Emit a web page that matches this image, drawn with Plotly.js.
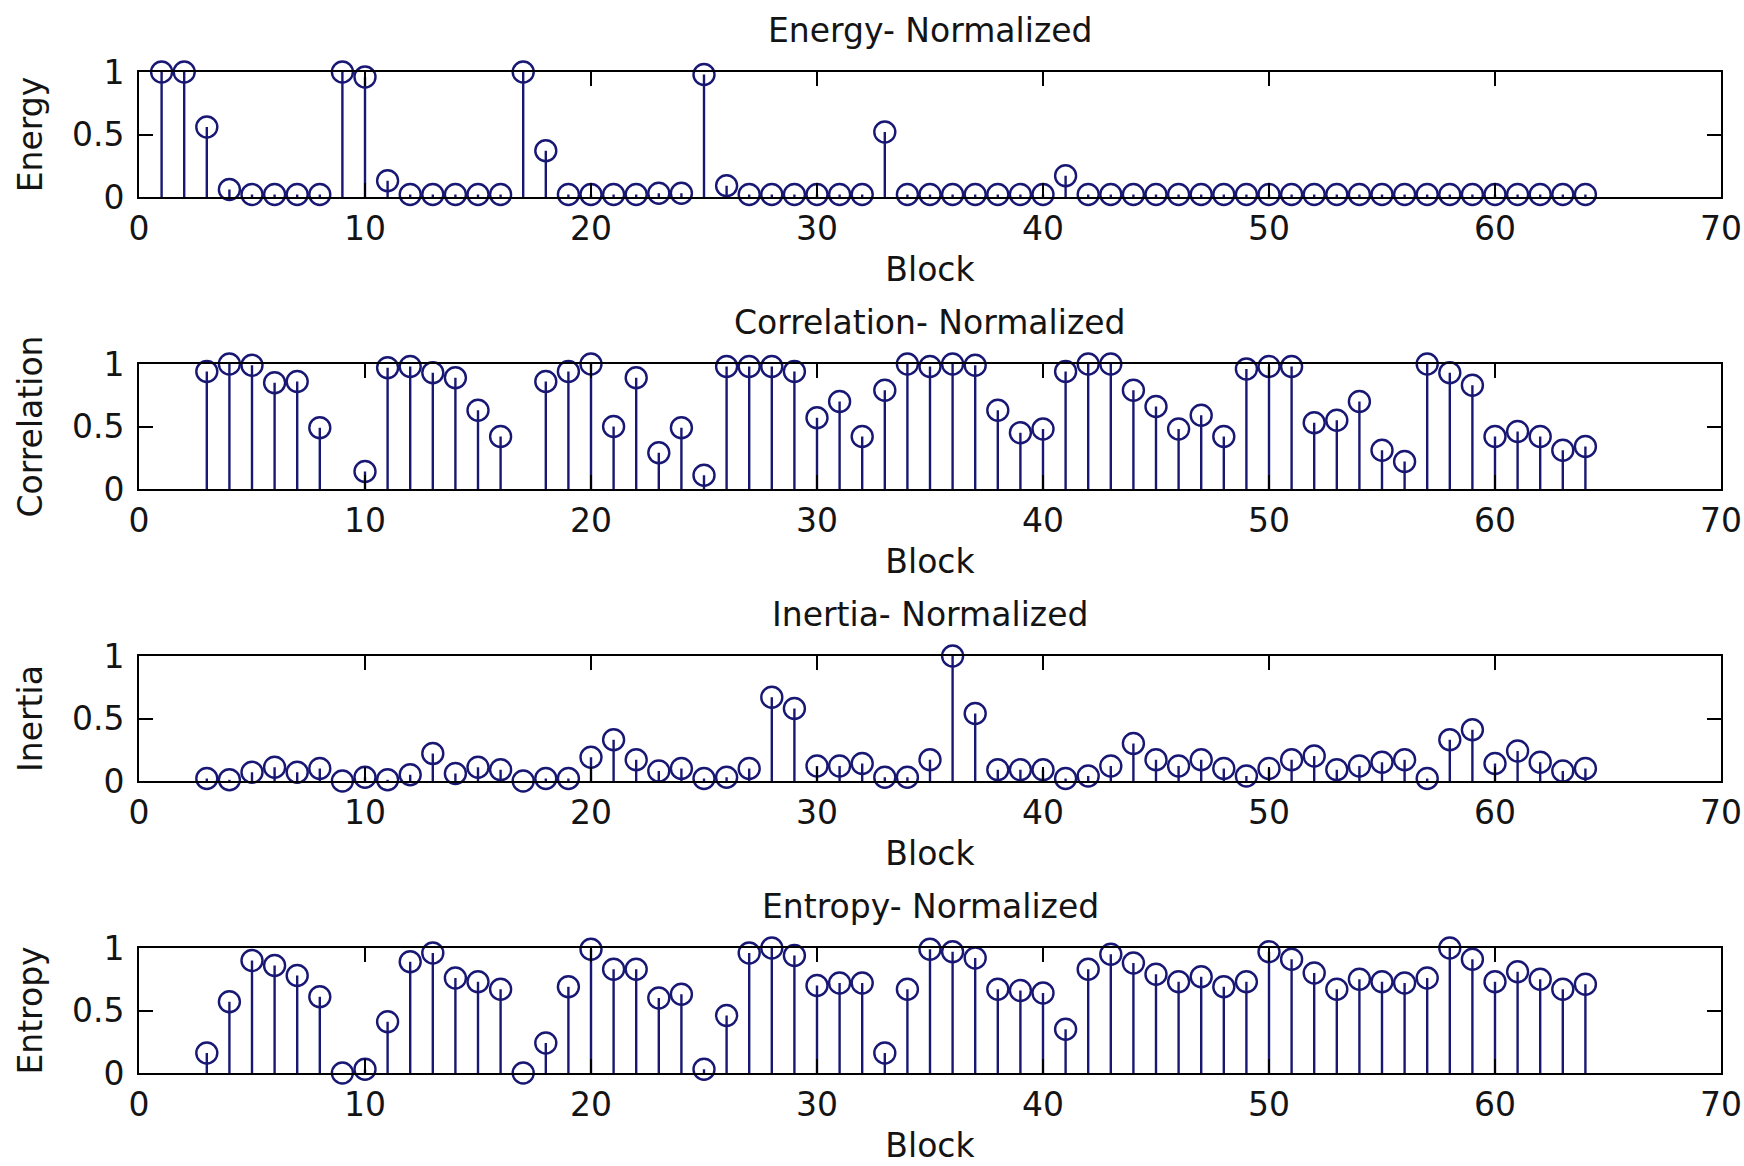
<!DOCTYPE html>
<html>
<head>
<meta charset="utf-8">
<script src="https://cdn.plot.ly/plotly-3.0.1.min.js"></script>
<style>html,body{margin:0;padding:0;background:#fff;}</style>
</head>
<body>
<div id="chart" style="width:1744px;height:1166px;"></div>
<script>
const blocks = [1,2,3,4,5,6,7,8,9,10,11,12,13,14,15,16,17,18,19,20,21,22,23,24,25,26,27,28,29,30,31,32,33,34,35,36,37,38,39,40,41,42,43,44,45,46,47,48,49,50,51,52,53,54,55,56,57,58,59,60,61,62,63,64];

const energy = [1.00,1.00,0.56,0.06,0.02,0.02,0.02,0.02,1.00,0.96,
  0.13,0.02,0.02,0.02,0.02,0.02,1.00,0.37,0.02,0.02,
  0.02,0.02,0.03,0.03,0.98,0.09,0.02,0.02,0.02,0.02,
  0.02,0.02,0.52,0.02,0.02,0.02,0.02,0.02,0.02,0.02,
  0.17,0.02,0.02,0.02,0.02,0.02,0.02,0.02,0.02,0.02,
  0.02,0.02,0.02,0.02,0.02,0.02,0.02,0.02,0.02,0.02,
  0.02,0.02,0.02,0.02];

const correlation = [null,null,0.94,1.00,0.99,0.85,0.86,0.49,null,0.14,
  0.97,0.98,0.93,0.89,0.63,0.42,null,0.86,0.94,1.00,
  0.50,0.89,0.29,0.49,0.11,0.98,0.98,0.98,0.94,0.57,
  0.70,0.42,0.79,1.00,0.98,1.00,0.99,0.63,0.45,0.48,
  0.94,1.00,1.00,0.79,0.66,0.48,0.59,0.42,0.96,0.98,
  0.98,0.53,0.55,0.70,0.31,0.22,1.00,0.93,0.83,0.42,
  0.46,0.42,0.31,0.34];

const inertia = [null,null,0.02,0.01,0.07,0.11,0.07,0.10,0.00,0.03,
  0.01,0.05,0.22,0.06,0.11,0.09,0.00,0.02,0.02,0.19,
  0.33,0.17,0.08,0.10,0.02,0.03,0.10,0.67,0.58,0.12,
  0.12,0.14,0.03,0.03,0.17,1.00,0.54,0.09,0.09,0.09,
  0.02,0.04,0.12,0.30,0.17,0.12,0.17,0.10,0.04,0.10,
  0.17,0.20,0.09,0.12,0.15,0.17,0.02,0.33,0.41,0.14,
  0.24,0.15,0.08,0.10];

const entropy = [null,null,0.16,0.57,0.90,0.86,0.78,0.61,0.00,0.03,
  0.41,0.89,0.96,0.76,0.73,0.67,0.00,0.24,0.69,0.99,
  0.83,0.83,0.60,0.63,0.03,0.46,0.96,1.00,0.94,0.70,
  0.72,0.72,0.16,0.67,0.99,0.97,0.92,0.67,0.66,0.64,
  0.35,0.83,0.95,0.88,0.79,0.73,0.77,0.69,0.73,0.97,
  0.91,0.80,0.67,0.75,0.73,0.72,0.76,1.00,0.91,0.73,
  0.81,0.75,0.67,0.71];

const panelTitles = ['Energy- Normalized','Correlation- Normalized','Inertia- Normalized','Entropy- Normalized'];
const yLabels = ['Energy','Correlation','Inertia','Entropy'];
const xLabel = 'Block';
const xTicks = [0,10,20,30,40,50,60,70];
const yTicks = [0,0.5,1];
const yTickText = ['0','0.5','1'];

const series = [energy, correlation, inertia, entropy];

const W = 1744, H = 1166;
const boxTop = [72, 364, 656, 948];
const boxH = 125;
const xDom = [139/W, 1721/W];
const stemColor = '#181874';
const FONT = 'DejaVu Sans, Liberation Sans, Arial, sans-serif';
const FS = 33;

const traces = [];
const layout = {
  width: W, height: H,
  margin: {l:0, r:0, t:0, b:0},
  paper_bgcolor: '#ffffff',
  plot_bgcolor: '#ffffff',
  showlegend: false,
  font: {family: FONT, size: FS, color: '#141414'},
  annotations: []
};

series.forEach((vals, i) => {
  const n = i + 1;
  const xa = 'x' + (n === 1 ? '' : n);
  const ya = 'y' + (n === 1 ? '' : n);
  traces.push({
    type: 'scatter',
    mode: 'markers',
    x: blocks,
    y: vals,
    xaxis: xa, yaxis: ya,
    cliponaxis: false,
    marker: {symbol: 'circle-open', size: 21, color: stemColor, line: {width: 2.4, color: stemColor}},
    error_y: {
      type: 'data', symmetric: false,
      array: vals.map(() => 0),
      arrayminus: vals,
      width: 0, thickness: 2.4, color: stemColor
    },
    hoverinfo: 'x+y'
  });
  const top = boxTop[i], bot = boxTop[i] + boxH;
  const yDom = [1 - bot / H, 1 - top / H];
  const axCommon = {
    showline: true, linewidth: 2, linecolor: '#000',
    mirror: 'ticks', ticks: 'inside', ticklen: 14, tickwidth: 2, tickcolor: '#000',
    showgrid: false, zeroline: false, fixedrange: true,
    tickfont: {family: FONT, size: FS, color: '#141414'}
  };
  layout['xaxis' + (n === 1 ? '' : n)] = Object.assign({}, axCommon, {
    domain: xDom, range: [0, 70], anchor: ya,
    tickmode: 'array', tickvals: xTicks, ticktext: xTicks.map(String),
    ticklabelstandoff: 1,
    title: {text: xLabel, font: {family: FONT, size: FS, color: '#141414'}, standoff: 11}
  });
  layout['yaxis' + (n === 1 ? '' : n)] = Object.assign({}, axCommon, {
    domain: yDom, range: [0, 1], anchor: xa,
    tickmode: 'array', tickvals: yTicks, ticktext: yTickText,
    ticklabelstandoff: 6,
    title: {text: yLabels[i], font: {family: FONT, size: FS, color: '#141414'}, standoff: 19}
  });
  layout.annotations.push({
    text: panelTitles[i], xref: 'paper', yref: 'paper',
    x: (xDom[0] + xDom[1]) / 2, y: 1 - (top - 42) / H,
    xanchor: 'center', yanchor: 'middle', showarrow: false,
    font: {family: FONT, size: FS, color: '#141414'}
  });
});

Plotly.newPlot('chart', traces, layout, {displayModeBar: false, staticPlot: true});
</script>
</body>
</html>
